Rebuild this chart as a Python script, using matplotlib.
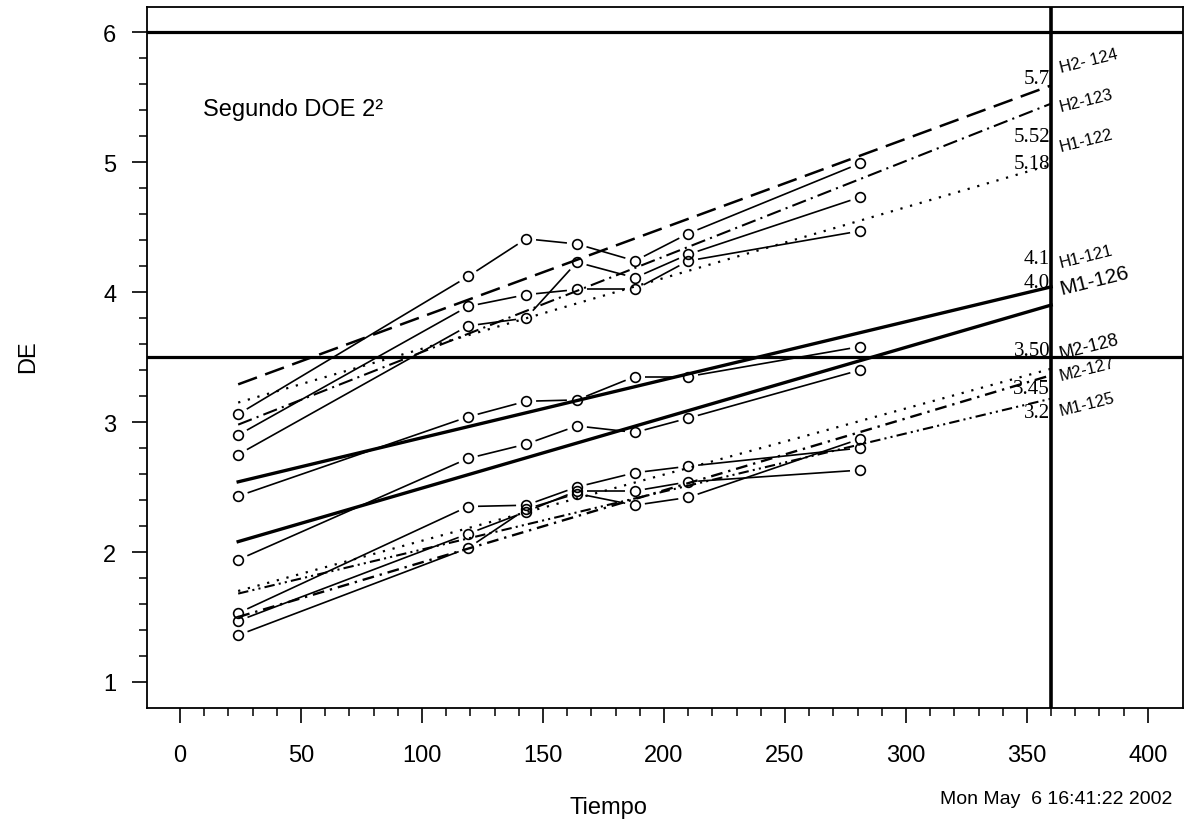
import numpy as np
import matplotlib
matplotlib.use('Agg')
import matplotlib.pyplot as plt
from matplotlib.ticker import FixedLocator

plt.rcParams['font.family'] = ['Liberation Sans', 'DejaVu Sans']

# sampling times
tiempo = [24, 119, 143, 164, 188, 210, 281]

de_a = [3.06, 4.12, 4.41, 4.37, 4.24, 4.45, 4.99]
de_b = [2.90, 3.89, 3.98, 4.02, 4.02, 4.24, 4.47]
de_c = [2.75, 3.74, 3.80, 4.23, 4.11, 4.29, 4.73]
de_d = [2.43, 3.04, 3.16, 3.17, 3.35, 3.35, 3.58]
de_e = [1.94, 2.72, 2.83, 2.97, 2.92, 3.03, 3.40]
de_f = [1.53, 2.35, 2.36, 2.50, 2.61, 2.66, 2.80]
de_g = [1.47, 2.14, 2.31, 2.47, 2.47, 2.54, 2.63]
de_h = [1.36, 2.03, 2.33, 2.45, 2.36, 2.42, 2.87]

# fitted trend lines: value at t=24 and at t=360
fit_t = [24, 360]
fit_h2_124 = [3.29, 5.59]
fit_h2_123 = [2.98, 5.45]
fit_h1_122 = [3.15, 4.98]
fit_h1_121 = [2.54, 4.04]
fit_m1_126 = [2.08, 3.90]
fit_m2_128 = [1.70, 3.41]
fit_m2_127 = [1.50, 3.36]
fit_m1_125 = [1.68, 3.18]

# reference limits
lim_sup = 6.0
lim_inf = 3.5
t_corte = 360

# end-of-line labels
valores = ['5.7', '5.52', '5.18', '4.1', '4.0', '3.50', '3.45', '3.2']
valores_y = [5.64, 5.20, 4.99, 4.26, 4.07, 3.55, 3.26, 3.07]
nombres = ['H2- 124', 'H2-123', 'H1-122', 'H1-121', 'M1-126', 'M2-128', 'M2-127', 'M1-125']
nombres_y = [5.73, 5.43, 5.12, 4.23, 4.03, 3.53, 3.36, 3.09]
nombres_size = [12, 12, 12, 12, 15, 13, 12, 12]


def gapped(ax, x, y, gap=10):
    # S-PLUS type="b": segments stop short of the markers
    pts = ax.transData.transform(np.column_stack([x, y]))
    inv = ax.transData.inverted()
    for p0, p1 in zip(pts[:-1], pts[1:]):
        d = p1 - p0
        n = np.hypot(d[0], d[1])
        if n <= 2 * gap:
            continue
        u = d / n
        seg = inv.transform(np.array([p0 + u * gap, p1 - u * gap]))
        ax.plot(seg[:, 0], seg[:, 1], color='black', lw=1.2,
                solid_capstyle='butt', zorder=3)


fig = plt.figure(figsize=(11.87, 8.29), dpi=100)
ax = fig.add_axes([0.1236, 0.1448, 0.873, 0.845])
ax.set_xlim(-13.8, 414.5)
ax.set_ylim(0.80, 6.19)

for s in ax.spines.values():
    s.set_linewidth(1.3)

ax.xaxis.set_major_locator(FixedLocator(np.arange(0, 401, 50)))
ax.xaxis.set_minor_locator(FixedLocator(np.arange(0, 401, 10)))
ax.yaxis.set_major_locator(FixedLocator(np.arange(1, 7, 1)))
ax.yaxis.set_minor_locator(FixedLocator(np.arange(1, 6.01, 0.2)))
ax.tick_params(axis='both', which='major', direction='out', length=11, width=1.2,
               labelsize=17)
ax.tick_params(axis='both', which='minor', direction='out', length=6, width=1.1)
ax.tick_params(axis='x', which='major', pad=15)
ax.tick_params(axis='y', which='major', pad=11)

# reference lines
ax.axhline(lim_sup, color='black', lw=2.3, zorder=2)
ax.axhline(lim_inf, color='black', lw=2.3, zorder=2)
ax.axvline(t_corte, color='black', lw=2.6, zorder=2)

# measured runs
for serie in [de_a, de_b, de_c, de_d, de_e, de_f, de_g, de_h]:
    gapped(ax, tiempo, serie)
    ax.plot(tiempo, serie, linestyle='none', marker='o', ms=7, mfc='none',
            mec='black', mew=1.2, zorder=4)

# trend lines
ax.plot(fit_t, fit_h2_124, color='black', lw=1.8, linestyle=(0, (8, 3.5)), zorder=3)
ax.plot(fit_t, fit_h2_123, color='black', lw=1.5, linestyle=(0, (7, 2.5, 1, 2.5)), zorder=3)
ax.plot(fit_t, fit_h1_122, color='black', lw=1.6, linestyle=(0, (1, 3.5)), zorder=3)
ax.plot(fit_t, fit_h1_121, color='black', lw=2.4, zorder=3)
ax.plot(fit_t, fit_m1_126, color='black', lw=2.4, zorder=3)
ax.plot(fit_t, fit_m2_128, color='black', lw=1.6, linestyle=(0, (1, 3.5)), zorder=3)
ax.plot(fit_t, fit_m2_127, color='black', lw=1.7, linestyle=(0, (5, 2.5, 1, 2.5)), zorder=3)
ax.plot(fit_t, fit_m1_125, color='black', lw=1.5,
        linestyle=(0, (5, 2, 1, 2, 1, 2)), zorder=3)

for txt, yv in zip(valores, valores_y):
    ax.text(359.6, yv, txt, ha='right', va='center', fontsize=15,
            family='Liberation Serif', zorder=5)
for txt, yv, fs in zip(nombres, nombres_y, nombres_size):
    ax.text(363.5, yv, txt, ha='left', va='center', fontsize=fs,
            rotation=14, rotation_mode='anchor', zorder=5)

fig.text(203 / 1187, 1 - 110 / 829, 'Segundo DOE 2\u00b2', fontsize=17,
         ha='left', va='center')
fig.text(28 / 1187, 1 - 357 / 829, 'DE', fontsize=17, rotation=90,
         ha='center', va='center')
fig.text(608 / 1187, 1 - 808 / 829, 'Tiempo', fontsize=17,
         ha='center', va='center')
fig.text(1172 / 1187, 1 - 800 / 829, 'Mon May  6 16:41:22 2002', fontsize=14,
         ha='right', va='center')

fig.savefig('out.png', dpi=100)
